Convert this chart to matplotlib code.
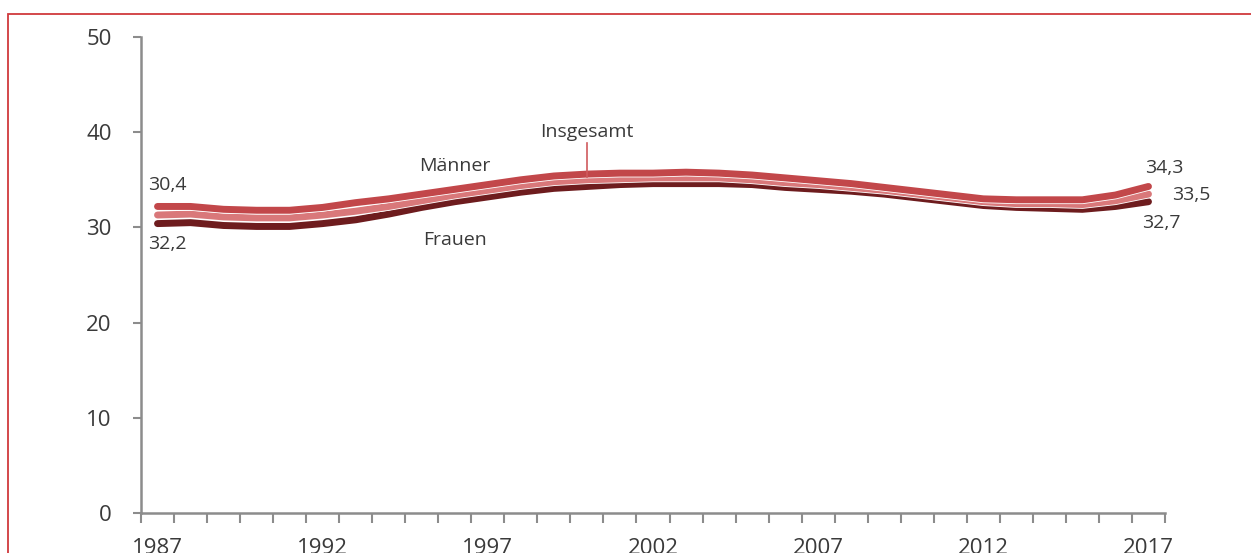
import matplotlib.pyplot as plt
import matplotlib.patheffects as pe
from matplotlib.patches import Rectangle
import numpy as np

plt.rcParams['font.family'] = ['Open Sans', 'DejaVu Sans']

# Values
years = list(range(1987, 2018))
maenner = [32.2, 32.2, 31.9, 31.8, 31.8, 32.1, 32.6, 33.0, 33.5, 34.0,
           34.5, 35.0, 35.4, 35.6, 35.7, 35.7, 35.8, 35.7, 35.5, 35.2,
           34.9, 34.6, 34.2, 33.8, 33.4, 33.0, 32.9, 32.9, 32.9, 33.4, 34.3]
insgesamt = [31.3, 31.4, 31.1, 31.0, 31.0, 31.3, 31.7, 32.2, 32.8, 33.4,
             33.9, 34.4, 34.8, 35.0, 35.1, 35.2, 35.2, 35.2, 35.0, 34.7,
             34.5, 34.2, 33.9, 33.5, 33.1, 32.7, 32.5, 32.5, 32.4, 32.8, 33.5]
frauen = [30.4, 30.5, 30.2, 30.1, 30.1, 30.4, 30.8, 31.4, 32.1, 32.7,
          33.2, 33.7, 34.1, 34.3, 34.5, 34.6, 34.6, 34.6, 34.5, 34.2,
          34.0, 33.8, 33.5, 33.1, 32.7, 32.3, 32.1, 32.0, 31.9, 32.2, 32.7]
xtick_years = [1987, 1992, 1997, 2002, 2007, 2012, 2017]
yticks = [0, 10, 20, 30, 40, 50]

text_col = '#3a3a3a'
axis_col = '#8c8c8c'

fig = plt.figure(figsize=(12.51, 5.53), dpi=100)
ax = fig.add_axes([141 / 1251, 40 / 553, 1024 / 1251, 476 / 553])

outline = [pe.Stroke(linewidth=6.2, foreground='white'), pe.Normal()]
ax.plot(years, frauen, color='#6e1c1e', lw=5.0, solid_capstyle='round',
        solid_joinstyle='round', path_effects=outline, zorder=3)
ax.plot(years, insgesamt, color='#d9787a', lw=5.0, solid_capstyle='round',
        solid_joinstyle='round', path_effects=outline, zorder=4)
ax.plot(years, maenner, color='#c2474a', lw=5.0, solid_capstyle='round',
        solid_joinstyle='round', path_effects=outline, zorder=5)

ax.set_xlim(1986.5, 2017.5)
ax.set_ylim(0, 50)

for s in ['top', 'right']:
    ax.spines[s].set_visible(False)
for s in ['left', 'bottom']:
    ax.spines[s].set_color(axis_col)
    ax.spines[s].set_linewidth(1.8)

ax.set_yticks(yticks)
ax.tick_params(axis='y', length=6, width=1.5, color=axis_col, pad=15,
               labelsize=16, labelcolor=text_col)
ax.set_xticks(xtick_years)
ax.set_xticks(np.arange(1986.5, 2018, 1), minor=True)
ax.tick_params(axis='x', which='major', length=0, pad=18,
               labelsize=16, labelcolor=text_col)
ax.tick_params(axis='x', which='minor', length=7, width=1.5, color=axis_col)

# Labels
lab = dict(fontsize=14, color=text_col)
ax.text(1986.7, 34.5, '30,4', ha='left', va='center', **lab)
ax.text(1986.7, 28.3, '32,2', ha='left', va='center', **lab)
ax.text(1996.0, 36.4, 'Männer', ha='center', va='center', **lab)
ax.text(1996.0, 28.7, 'Frauen', ha='center', va='center', **lab)
ax.text(2000.0, 40.0, 'Insgesamt', ha='center', va='center', **lab)
ax.plot([2000.0, 2000.0], [38.9, 35.3], color='#d05a5d', lw=1.2, zorder=6)
ax.text(2016.9, 36.2, '34,3', ha='left', va='center', **lab)
ax.text(2017.7, 33.4, '33,5', ha='left', va='center', **lab)
ax.text(2016.8, 30.5, '32,7', ha='left', va='center', **lab)

# red frame
fig.patches.append(Rectangle((8 / 1251, -0.05), 1.2, (553 - 14) / 553 + 0.05,
                             transform=fig.transFigure, fill=False,
                             edgecolor='#d0393d', lw=1.3))

fig.savefig('out.png', dpi=100)
